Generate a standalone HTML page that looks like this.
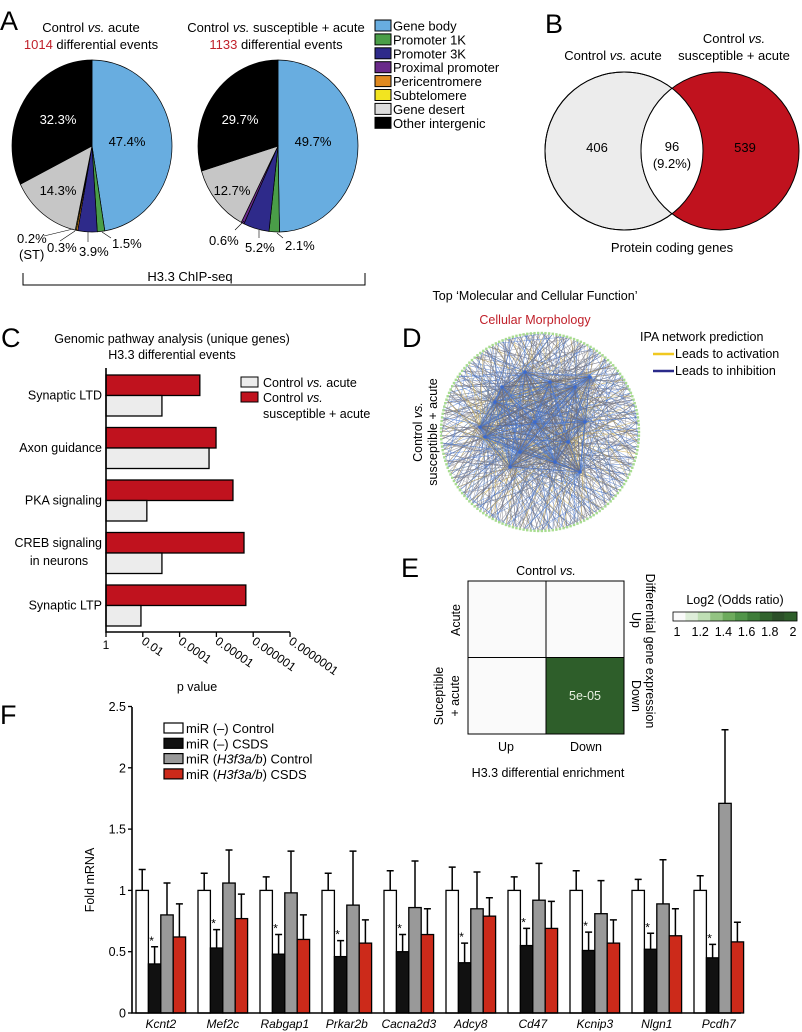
<!DOCTYPE html>
<html><head><meta charset="utf-8">
<style>
html,body{margin:0;padding:0;background:#fff;}
svg{display:block;font-family:"Liberation Sans",Arial,sans-serif;}
</style></head>
<body>
<svg id="fig" width="802" height="1032" viewBox="0 0 802 1032" xmlns="http://www.w3.org/2000/svg">
<g id="panelA">
 <text x="0" y="30" font-size="27">A</text>
 <text x="91" y="32" font-size="13" text-anchor="middle">Control <tspan font-style="italic">vs.</tspan> acute</text>
 <text x="91" y="49" font-size="13" text-anchor="middle"><tspan fill="#c0202a">1014</tspan> differential events</text>
 <text x="276" y="32" font-size="13" text-anchor="middle">Control <tspan font-style="italic">vs.</tspan> susceptible + acute</text>
 <text x="276" y="49" font-size="13" text-anchor="middle"><tspan fill="#c0202a">1133</tspan> differential events</text>
 <g id="pies"></g>
 <g id="pieLegend"></g>
 <g font-size="13">
  <text x="17" y="243">0.2%</text><text x="19" y="259">(ST)</text>
  <text x="47" y="252">0.3%</text><text x="79" y="256">3.9%</text><text x="112" y="248">1.5%</text>
  <line x1="44" y1="236" x2="73" y2="229" stroke="#000" stroke-width="0.6"/>
  <line x1="60" y1="241" x2="75" y2="231" stroke="#000" stroke-width="0.6"/>
  <line x1="88" y1="242" x2="88" y2="232" stroke="#000" stroke-width="0.6"/>
  <line x1="111" y1="238" x2="102" y2="232" stroke="#000" stroke-width="0.6"/>
 </g>
 <g font-size="13">
  <text x="209" y="245">0.6%</text><text x="245" y="252">5.2%</text><text x="285" y="250">2.1%</text>
  <line x1="235" y1="230" x2="244" y2="221" stroke="#000" stroke-width="0.6"/>
  <line x1="259" y1="238" x2="259" y2="230" stroke="#000" stroke-width="0.6"/>
  <line x1="283" y1="238" x2="277" y2="233" stroke="#000" stroke-width="0.6"/>
 </g>
 <path d="M23,273 V285 H365 V273" fill="none" stroke="#000" stroke-width="1"/>
 <text x="190" y="281" font-size="13" text-anchor="middle">H3.3 ChIP-seq</text>
</g>
<g>
 <text x="545" y="33" font-size="27">B</text>
 <text x="613" y="60" font-size="13" text-anchor="middle">Control <tspan font-style="italic">vs.</tspan> acute</text>
 <text x="734" y="43" font-size="13" text-anchor="middle">Control <tspan font-style="italic">vs.</tspan></text>
 <text x="734" y="60" font-size="13" text-anchor="middle">susceptible + acute</text>
 <circle cx="624" cy="151" r="79" fill="#ececec" stroke="#000" stroke-width="1"/>
 <circle cx="720" cy="151" r="79" fill="#c0121e" stroke="#000" stroke-width="1"/>
 <clipPath id="vclip"><circle cx="624" cy="151" r="79"/></clipPath>
 <circle cx="720" cy="151" r="79" fill="#fff" stroke="#000" stroke-width="1" clip-path="url(#vclip)"/>
 <circle cx="624" cy="151" r="79" fill="none" stroke="#000" stroke-width="1"/>
 <text x="597" y="152" font-size="13" text-anchor="middle">406</text>
 <text x="672" y="151" font-size="13" text-anchor="middle">96</text>
 <text x="672" y="168" font-size="13" text-anchor="middle">(9.2%)</text>
 <text x="745" y="152" font-size="13" text-anchor="middle">539</text>
 <text x="672" y="252" font-size="13" text-anchor="middle">Protein coding genes</text>
</g>
<g>
 <text x="1" y="347" font-size="27">C</text>
 <text x="172" y="343" font-size="12.5" text-anchor="middle">Genomic pathway analysis (unique genes)</text>
 <text x="172" y="359" font-size="12.5" text-anchor="middle">H3.3 differential events</text>
 <g id="chartC"></g>
 <rect x="241" y="377" width="17" height="10" fill="#ececec" stroke="#000" stroke-width="1"/>
 <text x="263" y="387" font-size="12.5">Control <tspan font-style="italic">vs.</tspan> acute</text>
 <rect x="241" y="392" width="17" height="10" fill="#c0121e" stroke="#000" stroke-width="1"/>
 <text x="263" y="402" font-size="12.5">Control <tspan font-style="italic">vs.</tspan></text>
 <text x="263" y="418" font-size="12.5">susceptible + acute</text>
 <text x="197" y="691" font-size="12.5" text-anchor="middle">p value</text>
</g>
<g>
 <text x="535" y="300" font-size="12.5" text-anchor="middle">Top ‘Molecular and Cellular Function’</text>
 <text x="535" y="324" font-size="12.5" text-anchor="middle" fill="#c0202a">Cellular Morphology</text>
 <text x="402" y="347" font-size="27">D</text>
 <text transform="translate(422,432) rotate(-90)" font-size="12.5" text-anchor="middle">Control <tspan font-style="italic">vs.</tspan></text>
 <text transform="translate(437,432) rotate(-90)" font-size="12.5" text-anchor="middle">susceptible + acute</text>
 <g id="network"></g>
 <text x="640" y="341" font-size="12.5">IPA network prediction</text>
 <line x1="653" y1="354" x2="674" y2="354" stroke="#f0c820" stroke-width="2.5"/>
 <text x="675" y="358" font-size="12.5">Leads to activation</text>
 <line x1="653" y1="371" x2="674" y2="371" stroke="#2a2a8a" stroke-width="2.5"/>
 <text x="675" y="375" font-size="12.5">Leads to inhibition</text>
</g>
<g>
 <text x="401" y="577" font-size="27">E</text>
 <text x="546" y="575" font-size="12.5" text-anchor="middle">Control <tspan font-style="italic">vs.</tspan></text>
 <g id="heatmap"></g>
 <text transform="translate(460,620) rotate(-90)" font-size="12.5" text-anchor="middle">Acute</text>
 <text transform="translate(443,696) rotate(-90)" font-size="12.5" text-anchor="middle">Suceptible</text>
 <text transform="translate(459,696) rotate(-90)" font-size="12.5" text-anchor="middle">+ acute</text>
 <text x="506" y="751" font-size="12.5" text-anchor="middle">Up</text>
 <text x="586" y="751" font-size="12.5" text-anchor="middle">Down</text>
 <text x="548" y="777" font-size="12.5" text-anchor="middle">H3.3 differential enrichment</text>
 <text transform="translate(632,620) rotate(90)" font-size="12.5" text-anchor="middle">Up</text>
 <text transform="translate(632,696) rotate(90)" font-size="12.5" text-anchor="middle">Down</text>
 <text transform="translate(646,651) rotate(90)" font-size="12.5" text-anchor="middle">Differential gene expression</text>
 <text x="735" y="604" font-size="12.5" text-anchor="middle">Log2 (Odds ratio)</text>
 <g id="colorbar"></g>
</g>
<g>
 <text x="0" y="724" font-size="27">F</text>
 <text transform="translate(94,880) rotate(-90)" font-size="12.5" text-anchor="middle">Fold mRNA</text>
 <g id="chartF"></g>
 <g id="legendF"></g>
</g>
</svg>
<script>
const NS='http://www.w3.org/2000/svg';
function mk(tag,attrs,parent,txt){const e=document.createElementNS(NS,tag);for(const k in attrs)e.setAttribute(k,attrs[k]);if(txt!==undefined)e.textContent=txt;parent.appendChild(e);return e;}

const pieCategories=['Gene body','Promoter 1K','Promoter 3K','Proximal promoter','Pericentromere','Subtelomere','Gene desert','Other intergenic'];
const pieColors=['#68ade0','#4a9e48','#2e2a8a','#6a2a8a','#e08a20','#f2e420','#c6c6c6','#000000'];
const pie1Values=[47.4,1.5,3.9,0.0,0.3,0.2,14.3,32.3];
const pie2Values=[49.7,2.1,5.2,0.6,0.0,0.0,12.7,29.7];
const pie1Labels=[['47.4%',127,146,'#000'],['32.3%',58,124,'#fff'],['14.3%',58,195,'#000']];
const pie2Labels=[['49.7%',313,146,'#000'],['29.7%',240,124,'#fff'],['12.7%',232,195,'#000']];
const pies=document.getElementById('pies');
function drawPie(vals,cx,cy,rx,ry,name,labels){
  const g=mk('g',{},pies);
  
  
  const tot=vals.reduce((a,b)=>a+b,0);let a0=0;
  vals.forEach((v,i)=>{if(v<=0)return;const a1=a0+v/tot*2*Math.PI;
    const x0=cx+rx*Math.sin(a0),y0=cy-ry*Math.cos(a0),x1=cx+rx*Math.sin(a1),y1=cy-ry*Math.cos(a1);
    const p=mk('path',{d:`M${cx},${cy} L${x0},${y0} A${rx},${ry} 0 ${a1-a0>Math.PI?1:0} 1 ${x1},${y1} Z`,fill:pieColors[i],stroke:'#000','stroke-width':0.7},g);
    
    
    a0=a1;});
  labels.forEach(l=>{const t=mk('text',{x:l[1],y:l[2],'font-size':13,'text-anchor':'middle',fill:l[3]},g,l[0]);
    
    });
}
drawPie(pie1Values,92,146,80,86,'pie-control-vs-acute',pie1Labels);
drawPie(pie2Values,278,146,80,86,'pie-control-vs-susceptible',pie2Labels);
const pl=document.getElementById('pieLegend');
const legendSwatch=['#68ade0','#4a9e48','#2e2a8a','#6a2a8a','#e08a20','#f2e420','#dcdcdc','#000000'];
pieCategories.forEach((c,i)=>{const y=20+i*13.9;
  const r=mk('rect',{x:375,y:y,width:16,height:11,fill:legendSwatch[i],stroke:'#000','stroke-width':1},pl);
  
  
  const t=mk('text',{x:393,y:y+10.5,'font-size':13},pl,c);
  
  });

const pathwayCategories=['Synaptic LTD','Axon guidance','PKA signaling','CREB signaling|in neurons','Synaptic LTP'];
const susceptibleLogP=[2.55,2.99,3.45,3.75,3.80];
const acuteLogP=[1.52,2.80,1.11,1.52,0.95];
const pTickLabels=['1','0.01','0.0001','0.00001','0.000001','0.0000001'];
(function(){
  const g=document.getElementById('chartC');
  const x0=106,step=36.8,top0=375,gstep=52.5,bh=20.5;
  const X=v=>x0+v*step;
  pathwayCategories.forEach((c,i)=>{const y=top0+i*gstep;
    const r1=mk('rect',{x:x0,y:y,width:X(susceptibleLogP[i])-x0,height:bh,fill:'#c0121e',stroke:'#000','stroke-width':1.3},g);
    
    
    const r2=mk('rect',{x:x0,y:y+bh,width:X(acuteLogP[i])-x0,height:bh,fill:'#ececec',stroke:'#000','stroke-width':1.3},g);
    
    
    const parts=c.split('|');
    parts.forEach((p,j)=>{const t=mk('text',{x:102,y:y+bh+4+(parts.length>1?(j*18-9):0)+(parts.length>1?-1:0),'font-size':12.5,'text-anchor':parts.length>1&&j==1?'middle':'end'},g,p);
      if(parts.length>1&&j==1)t.setAttribute('x',59);
      
      });
  });
  const ax=mk('path',{d:`M${x0},368 V632 H${X(5)}`,fill:'none',stroke:'#000','stroke-width':1.6},g);
  
  
  pTickLabels.forEach((l,i)=>{const x=X(i);
    const tk=mk('line',{x1:x,y1:632,x2:x,y2:637,stroke:'#000','stroke-width':1.3},g);
    
    
    const t=mk('text',{transform:i==0?`translate(${x},${649})`:`translate(${x-2},${643}) rotate(35)`,'font-size':12,'text-anchor':i==0?'middle':'start'},g,l);
    
    });
})();

(function(){
  const g=document.getElementById('network');const cx=540,cy=432,R=99;
  const N=170,per=[];for(let i=0;i<N;i++){const a=i/N*2*Math.PI;per.push([cx+R*Math.cos(a),cy+R*Math.sin(a)]);}
  const hubs=[[-45,-30],[-38,-45],[-60,-5],[-55,5],[-20,20],[10,-50],[35,-45],[45,-10],[28,10],[15,30],[-5,-10],[50,-55],[-15,-60],[-30,35],[40,40]].map(h=>[cx+h[0],cy+h[1]]);
  const cols=['#7a7a86','#4a78d0','#8a8a94','#6a6a78','#5a88d8','#d0b050','#80808c'];
  for(let i=0;i<N;i++){for(let j=0;j<4;j++){const h=hubs[(i*7+j*5)%hubs.length];const c=cols[(i*3+j)%cols.length];
    mk('line',{x1:per[i][0],y1:per[i][1],x2:h[0],y2:h[1],stroke:c,'stroke-width':0.55,'stroke-opacity':0.75},g);}}
  for(let i=0;i<N;i+=3){const k=(i*37+50)%N;
    mk('line',{x1:per[i][0],y1:per[i][1],x2:per[k][0],y2:per[k][1],stroke:i%2?'#4a78d0':'#7a7a86','stroke-width':0.5,'stroke-opacity':0.7},g);}
  for(let i=0;i<hubs.length;i++)for(let j=i+1;j<hubs.length;j++){
    mk('line',{x1:hubs[i][0],y1:hubs[i][1],x2:hubs[j][0],y2:hubs[j][1],stroke:(i+j)%2?'#4a78d0':'#6a6a78','stroke-width':0.8,'stroke-opacity':0.8},g);}
  for(let i=0;i<N;i+=1){mk('rect',{x:per[i][0]-1.2,y:per[i][1]-1.2,width:2.4,height:2.4,fill:'#a8dc90'},g);}
  hubs.forEach(h=>mk('circle',{cx:h[0],cy:h[1],r:1.8,fill:'#3a6ad0'},g));
})();

const heatRows=['Acute','Susceptible + acute'];
const heatCols=['Up','Down'];
const heatValues=[[1.0,1.0],[1.0,2.0]];
const heatText=[['','' ],['','5e-05']];
const cbTicks=[1,1.2,1.4,1.6,1.8,2];
function greenScale(v){const t=Math.max(0,Math.min(1,(v-1)));
  const stops=[[250,250,250],[200,228,190],[120,180,100],[70,140,65],[46,94,42],[40,60,38]];
  const p=t*(stops.length-1),i=Math.min(stops.length-2,Math.floor(p)),f=p-i;
  const c=stops[i].map((s,k)=>Math.round(s+(stops[i+1][k]-s)*f));
  if(v>=1.95)return 'rgb(46,94,42)';return `rgb(${c[0]},${c[1]},${c[2]})`;}
(function(){
  const g=document.getElementById('heatmap');const x0=468,y0=581,cw=78,ch=76.5;
  heatValues.forEach((row,r)=>row.forEach((v,c)=>{
    const re=mk('rect',{x:x0+c*cw,y:y0+r*ch,width:cw,height:ch,fill:greenScale(v),stroke:'#000','stroke-width':1},g);
    
    
    if(heatText[r][c]){const t=mk('text',{x:x0+c*cw+cw/2,y:y0+r*ch+ch/2+4,'font-size':12.5,'text-anchor':'middle',fill:'#e8f0e0'},g,heatText[r][c]);
      
      }
  }));
  const cb=document.getElementById('colorbar');const bx=673,bw=124;
  for(let i=0;i<10;i++){mk('rect',{x:bx+i*bw/10,y:612,width:bw/10+0.3,height:9,fill:greenScale(1+i/9*1.0)},cb);}
  mk('rect',{x:bx,y:612,width:bw,height:9,fill:'none',stroke:'#000','stroke-width':0.8},cb);
  cbTicks.forEach(v=>{const t=mk('text',{x:bx+4+(v-1)*(bw-8),y:636,'font-size':12.5,'text-anchor':'middle'},cb,String(v));
    
    });
})();

const genes=['Kcnt2','Mef2c','Rabgap1','Prkar2b','Cacna2d3','Adcy8','Cd47','Kcnip3','Nlgn1','Pcdh7'];
const ctrlMean=[1,1,1,1,1,1,1,1,1,1];
const ctrlErr=[1.17,1.14,1.11,1.14,1.16,1.19,1.11,1.16,1.09,1.12];
const csdsMean=[0.40,0.53,0.48,0.46,0.50,0.41,0.55,0.51,0.52,0.45];
const csdsErr=[0.54,0.68,0.64,0.59,0.64,0.57,0.69,0.66,0.65,0.56];
const h3CtrlMean=[0.80,1.06,0.98,0.88,0.86,0.85,0.92,0.81,0.89,1.71];
const h3CtrlErr=[1.06,1.33,1.32,1.32,1.24,1.15,1.22,1.08,1.25,2.31];
const h3CsdsMean=[0.62,0.77,0.60,0.57,0.64,0.79,0.69,0.57,0.63,0.58];
const h3CsdsErr=[0.89,0.97,0.80,0.76,0.85,0.94,0.91,0.76,0.85,0.74];
const fTicks=[0,0.5,1,1.5,2,2.5];
const fSeriesNames=['miR (–) Control','miR (–) CSDS','miR (H3f3a/b) Control','miR (H3f3a/b) CSDS'];
(function(){
  const g=document.getElementById('chartF');
  const Y=v=>1013-v*122.6;const ax=132,gx0=136,gstep=62,bw=12.4;
  const series=[[ctrlMean,ctrlErr,'#ffffff'],[csdsMean,csdsErr,'#111111'],[h3CtrlMean,h3CtrlErr,'#999999'],[h3CsdsMean,h3CsdsErr,'#cc2a1a']];
  genes.forEach((gn,i)=>{
    series.forEach((s,j)=>{const x=gx0+i*gstep+j*bw;const m=s[0][i],e=s[1][i];
      const eb=mk('path',{d:`M${x+bw/2},${Y(m)} V${Y(e)} M${x+bw/2-3.5},${Y(e)} H${x+bw/2+3.5}`,stroke:'#000','stroke-width':1.5,fill:'none'},g);
      
      
      const r=mk('rect',{x:x,y:Y(m),width:bw,height:Y(0)-Y(m),fill:s[2],stroke:'#000','stroke-width':1.3},g);
      
      
      if(j==1){const st=mk('text',{x:x+bw/2-3,y:Y(e)-2,'font-size':12,'text-anchor':'middle'},g,'*');
        
        }
    });
    const t=mk('text',{x:gx0+i*gstep+2*bw,y:1028,'font-size':12,'font-style':'italic','text-anchor':'middle'},g,gn);
    
    
  });
  const a=mk('path',{d:`M${ax},707 V${Y(0)} H741`,stroke:'#000','stroke-width':1.6,fill:'none'},g);
  
  
  fTicks.forEach(v=>{mk('line',{x1:ax-4,y1:Y(v),x2:ax,y2:Y(v),stroke:'#000','stroke-width':1.3},g);
    const t=mk('text',{x:ax-6,y:Y(v)+4.5,'font-size':12.5,'text-anchor':'end'},g,String(v));
    
    });
  const lg=document.getElementById('legendF');
  const fc=['#ffffff','#111111','#999999','#cc2a1a'];
  fSeriesNames.forEach((n,i)=>{const y=723+i*15.3;
    const r=mk('rect',{x:164,y:y,width:19,height:10,fill:fc[i],stroke:'#000','stroke-width':1.2},lg);
    
    
    const t=mk('text',{x:186,y:y+10,'font-size':13},lg);
    
    
    if(n.indexOf('H3f3a/b')>=0){t.appendChild(document.createTextNode('miR ('));mk('tspan',{'font-style':'italic'},t,'H3f3a/b');t.appendChild(document.createTextNode(n.slice(n.indexOf(')'))));}
    else t.textContent=n;});
})();
</script>
</body></html>
